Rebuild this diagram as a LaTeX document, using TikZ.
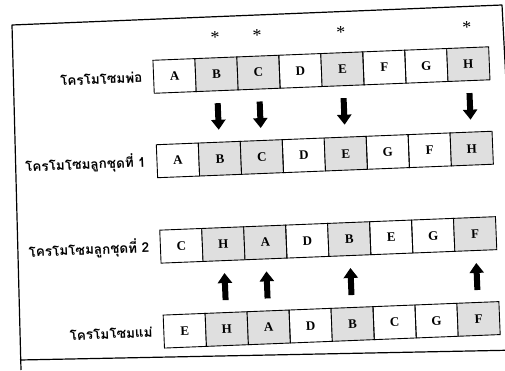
\documentclass[tikz,border=0pt]{standalone}
\usepackage{fontspec}
\setmainfont{Liberation Serif}
\newfontfamily\thaifont[Script=Thai]{Loma}
\usetikzlibrary{arrows.meta}

\begin{document}
\begin{tikzpicture}[x=1pt, y=1pt,
		gene/.style={draw, line width=0.9pt, minimum width=42pt, minimum height=33pt, inner sep=0pt, font=\fontsize{13}{15}\selectfont\bfseries},
		picked/.style={gene, fill=gray!25},
		rowlabel/.style={anchor=east, inner sep=0pt, font=\thaifont\fontsize{13.5}{15}\selectfont\bfseries},
		crossmark/.style={inner sep=0pt, font=\fontsize{18}{18}\selectfont},
		handover/.style={line width=6pt, -{Triangle[width=14pt, length=10pt]}, shorten <=12pt, shorten >=12pt},
	]
		\useasboundingbox (0,0) rectangle (505,370);
		\clip (0,0) rectangle (505,370);
		
		% --- OUTER FRAME ---
		\draw[line width=1.2pt, line join=round] (21,0) -- (12,345) -- (502,365) -- (520,20) -- (20,10);
		
		\begin{scope}[rotate around={2.3:(250,185)}, transform shape]
		
		% --- FATHER CHROMOSOME ---
		\node[rowlabel] (PaLabel) at (147,297) {โครโมโซมพ่อ};
		\node[gene]   (P1) at (179,297) {A};
		\node[picked] (P2) at (221,297) {B};
		\node[picked] (P3) at (263,297) {C};
		\node[gene]   (P4) at (305,297) {D};
		\node[picked] (P5) at (347,297) {E};
		\node[gene]   (P6) at (389,297) {F};
		\node[gene]   (P7) at (431,297) {G};
		\node[picked] (P8) at (473,297) {H};
		
		% selected positions
		\node[crossmark] (S2) at ([yshift=20pt]P2.north) {*};
		\node[crossmark] (S3) at ([yshift=20pt]P3.north) {*};
		\node[crossmark] (S5) at ([yshift=20pt]P5.north) {*};
		\node[crossmark] (S8) at ([yshift=20pt]P8.north) {*};
		
		% --- FIRST OFFSPRING ---
		\node[rowlabel] (ChALabel) at (147,212.5) {โครโมโซมลูกชุดที่ 1};
		\node[gene]   (C1) at (179,212.5) {A};
		\node[picked] (C2) at (221,212.5) {B};
		\node[picked] (C3) at (263,212.5) {C};
		\node[gene]   (C4) at (305,212.5) {D};
		\node[picked] (C5) at (347,212.5) {E};
		\node[gene]   (C6) at (389,212.5) {G};
		\node[gene]   (C7) at (431,212.5) {F};
		\node[picked] (C8) at (473,212.5) {H};
		
		\draw[handover] (P2.south) -- (C2.north);
		\draw[handover] (P3.south) -- (C3.north);
		\draw[handover] (P5.south) -- (C5.north);
		\draw[handover] (P8.south) -- (C8.north);
		
		% --- SECOND OFFSPRING ---
		\node[rowlabel] (ChBLabel) at (147,127) {โครโมโซมลูกชุดที่ 2};
		\node[gene]   (D1) at (179,127) {C};
		\node[picked] (D2) at (221,127) {H};
		\node[picked] (D3) at (263,127) {A};
		\node[gene]   (D4) at (305,127) {D};
		\node[picked] (D5) at (347,127) {B};
		\node[gene]   (D6) at (389,127) {E};
		\node[gene]   (D7) at (431,127) {G};
		\node[picked] (D8) at (473,127) {F};
		
		% --- MOTHER CHROMOSOME ---
		\node[rowlabel] (MaLabel) at (147,42) {โครโมโซมแม่};
		\node[gene]   (M1) at (179,42) {E};
		\node[picked] (M2) at (221,42) {H};
		\node[picked] (M3) at (263,42) {A};
		\node[gene]   (M4) at (305,42) {D};
		\node[picked] (M5) at (347,42) {B};
		\node[gene]   (M6) at (389,42) {C};
		\node[gene]   (M7) at (431,42) {G};
		\node[picked] (M8) at (473,42) {F};
		
		\draw[handover] (M2.north) -- (D2.south);
		\draw[handover] (M3.north) -- (D3.south);
		\draw[handover] (M5.north) -- (D5.south);
		\draw[handover] (M8.north) -- (D8.south);
		
		\end{scope}
		
	\end{tikzpicture}
\end{document}
